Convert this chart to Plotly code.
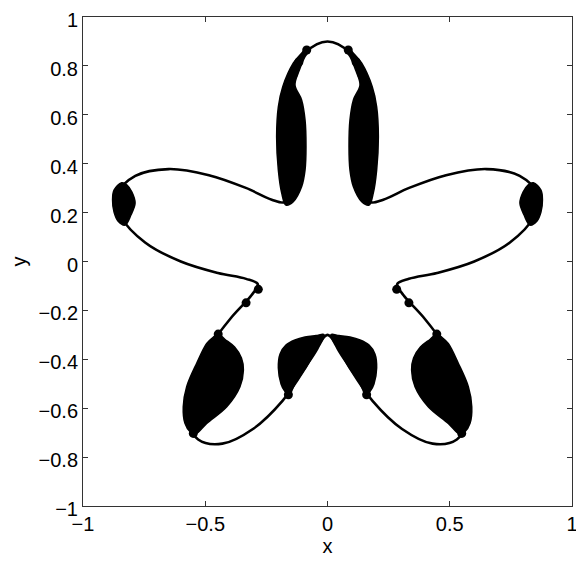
import plotly.graph_objects as go

# star-shaped boundary (closed curve, top -> left -> bottom -> right)
curve_x = [0, -0.090, -0.156, -0.185, -0.183, -0.170, -0.176, -0.228, -0.334, -0.485,
           -0.650, -0.786, -0.856, -0.841, -0.746, -0.600, -0.448, -0.333, -0.285, -0.311,
           -0.390, -0.485, -0.557, -0.575, -0.529, -0.430, -0.305, -0.185, -0.094, -0.036,
           0, 0.036, 0.094, 0.185, 0.305, 0.430, 0.529, 0.575, 0.557, 0.485,
           0.390, 0.311, 0.285, 0.333, 0.448, 0.600, 0.746, 0.841, 0.856, 0.786,
           0.650, 0.485, 0.334, 0.228, 0.176, 0.170, 0.183, 0.185, 0.156, 0.090, 0]
curve_y = [0.900, 0.855, 0.734, 0.571, 0.411, 0.295, 0.243, 0.253, 0.301, 0.353,
           0.378, 0.350, 0.278, 0.179, 0.078, 0.000, -0.047, -0.071, -0.093, -0.138,
           -0.225, -0.353, -0.502, -0.639, -0.728, -0.745, -0.685, -0.571, -0.440, -0.338,
           -0.300, -0.338, -0.440, -0.571, -0.685, -0.745, -0.728, -0.639, -0.502, -0.353,
           -0.225, -0.138, -0.093, -0.071, -0.047, 0.000, 0.078, 0.179, 0.278, 0.350,
           0.378, 0.353, 0.301, 0.253, 0.243, 0.295, 0.411, 0.571, 0.734, 0.855, 0.900]

# dense node clusters (outlines of the black blobs)
top_l_x = [-0.085, -0.106, -0.140, -0.183, -0.201, -0.208, -0.201, -0.187, -0.170, -0.140,
           -0.106, -0.092, -0.088, -0.092, -0.106, -0.133, -0.115, -0.092, -0.070]
top_l_y = [0.872, 0.852, 0.811, 0.715, 0.633, 0.510, 0.374, 0.279, 0.231, 0.245,
           0.306, 0.374, 0.470, 0.579, 0.661, 0.722, 0.783, 0.838, 0.868]
top_r_x = [0.085, 0.106, 0.140, 0.183, 0.201, 0.208, 0.201, 0.187, 0.170, 0.140,
           0.106, 0.092, 0.088, 0.092, 0.106, 0.133, 0.115, 0.092, 0.070]
top_r_y = top_l_y

side_l_x = [-0.842, -0.873, -0.879, -0.873, -0.857, -0.828, -0.804, -0.787, -0.800, -0.820]
side_l_y = [0.322, 0.292, 0.252, 0.202, 0.166, 0.149, 0.190, 0.239, 0.284, 0.313]
side_r_x = [0.842, 0.873, 0.879, 0.873, 0.857, 0.828, 0.804, 0.787, 0.800, 0.820]
side_r_y = side_l_y

low_l_x = [-0.447, -0.470, -0.494, -0.535, -0.576, -0.590, -0.583, -0.562, -0.540, -0.494,
           -0.412, -0.358, -0.344, -0.352, -0.380, -0.420]
low_l_y = [-0.297, -0.312, -0.335, -0.416, -0.512, -0.594, -0.662, -0.696, -0.705, -0.662,
           -0.594, -0.512, -0.444, -0.395, -0.350, -0.318]
low_r_x = [0.447, 0.470, 0.494, 0.535, 0.576, 0.590, 0.583, 0.562, 0.540, 0.494,
           0.412, 0.358, 0.344, 0.352, 0.380, 0.420]
low_r_y = low_l_y

mid_l_x = [-0.157, -0.175, -0.190, -0.201, -0.194, -0.170, -0.133, -0.092, -0.047, -0.014,
           -0.039, -0.092, -0.133]
mid_l_y = [-0.545, -0.530, -0.501, -0.436, -0.378, -0.342, -0.321, -0.309, -0.303, -0.299,
           -0.356, -0.438, -0.499]
mid_r_x = [0.157, 0.175, 0.190, 0.201, 0.194, 0.170, 0.133, 0.092, 0.047, 0.014,
           0.039, 0.092, 0.133]
mid_r_y = mid_l_y

# single nodes
dot_x = [-0.283, -0.333, 0.283, 0.333, -0.085, -0.117, -0.141, 0.085, 0.117, 0.141,
         -0.447, -0.549, 0.447, 0.549, -0.160, 0.160]
dot_y = [-0.114, -0.169, -0.114, -0.169, 0.865, 0.816, 0.763, 0.865, 0.816, 0.763,
         -0.297, -0.703, -0.297, -0.703, -0.545, -0.545]

blobs = [
    (top_l_x, top_l_y), (top_r_x, top_r_y),
    (side_l_x, side_l_y), (side_r_x, side_r_y),
    (low_l_x, low_l_y), (low_r_x, low_r_y),
    (mid_l_x, mid_l_y), (mid_r_x, mid_r_y),
]

fig = go.Figure()

for bx, by in blobs:
    fig.add_trace(go.Scatter(
        x=bx + bx[:1], y=by + by[:1], mode="lines", fill="toself",
        fillcolor="black", line=dict(color="black", width=1.5, shape="spline"),
        hoverinfo="skip",
    ))

fig.add_trace(go.Scatter(
    x=curve_x, y=curve_y, mode="lines",
    line=dict(color="black", width=2.6, shape="spline", smoothing=1.0),
))

fig.add_trace(go.Scatter(
    x=dot_x, y=dot_y, mode="markers",
    marker=dict(color="black", size=9),
))

axis_font = dict(family="Liberation Sans, Arial, sans-serif", size=20, color="black")

fig.update_xaxes(
    range=[-1, 1],
    tickvals=[-1, -0.5, 0, 0.5, 1],
    ticktext=["\u22121", "\u22120.5", "0", "0.5", "1"],
    ticks="inside", ticklen=5, tickcolor="#333",
    showline=True, linecolor="#333", linewidth=1, mirror="ticks",
    showgrid=False, zeroline=False, automargin=False, ticklabeloverflow="allow",
    tickfont=axis_font,
    title=dict(text="x", font=axis_font, standoff=2),
)
fig.update_yaxes(
    range=[-1, 1],
    tickvals=[-1, -0.8, -0.6, -0.4, -0.2, 0, 0.2, 0.4, 0.6, 0.8, 1],
    ticktext=["\u22121", "\u22120.8", "\u22120.6", "\u22120.4", "\u22120.2", "0",
              "0.2", "0.4", "0.6", "0.8", "1"],
    ticks="inside", ticklen=5, tickcolor="#333",
    showline=True, linecolor="#333", linewidth=1, mirror="ticks",
    showgrid=False, zeroline=False, automargin=False, ticklabeloverflow="allow",
    ticklabelshift=3,
    tickfont=axis_font,
    title=dict(text="y", font=axis_font, standoff=8),
)

# page body keeps an 8px margin, so the figure is sized to fit inside it
fig.update_layout(
    width=576, height=555,
    margin=dict(l=75, r=12, t=9, b=57),
    paper_bgcolor="white", plot_bgcolor="white",
    showlegend=False,
    font=axis_font,
)

fig.write_html("out.html")
